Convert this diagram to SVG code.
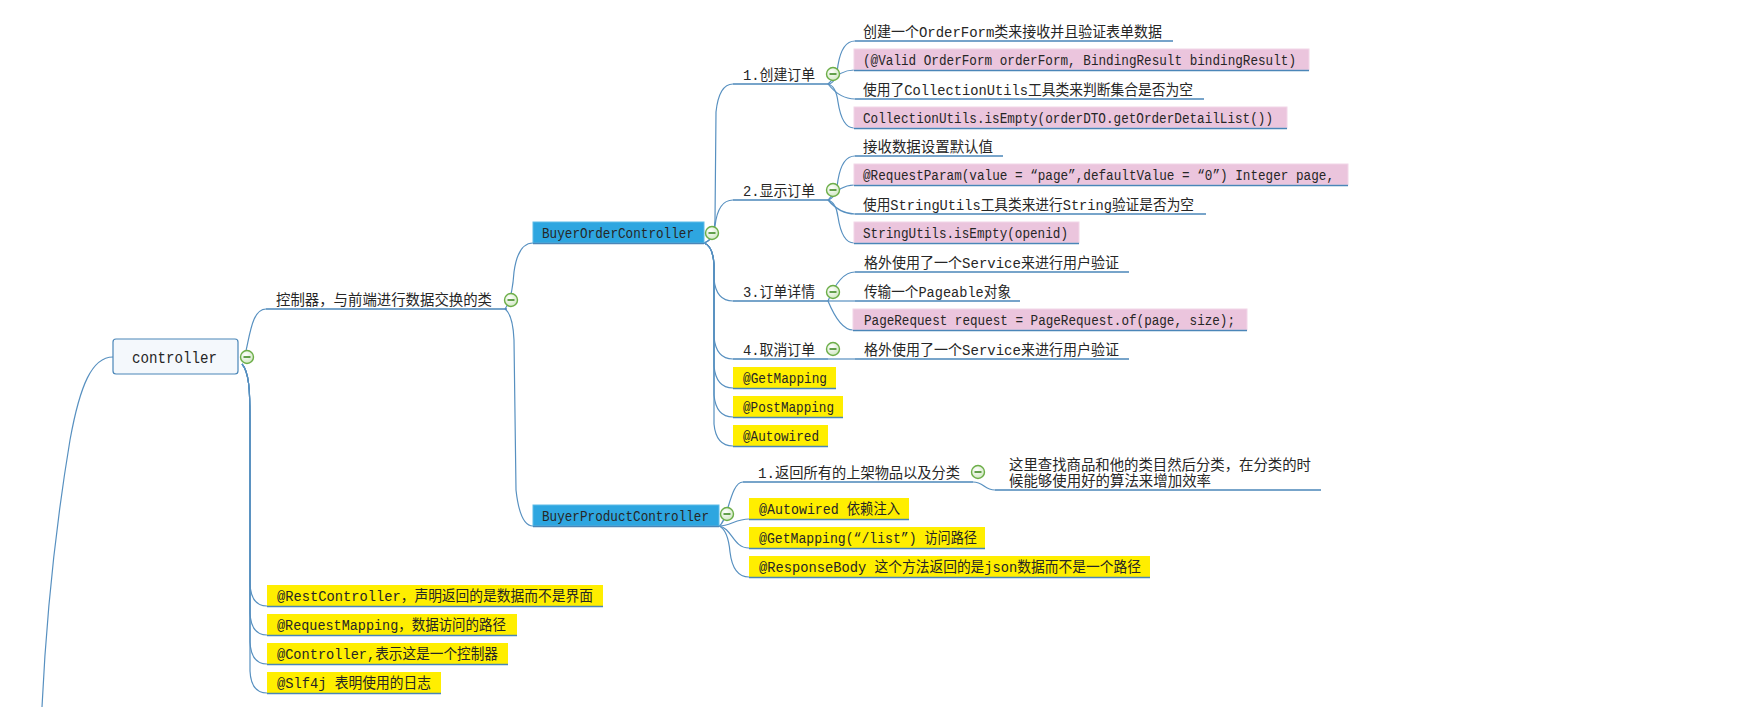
<svg xmlns="http://www.w3.org/2000/svg" xmlns:xlink="http://www.w3.org/1999/xlink" width="1755" height="707" viewBox="0 0 1755 707">
<style>
.t{font-family:"Liberation Mono","Noto Sans CJK SC",monospace;font-size:14.5px;fill:#262626}
.root{font-size:17px}
.ul{stroke:#4a86b8;stroke-width:1.3;fill:none}
.c{stroke:#5790c0;stroke-width:1.2;fill:none}
.pink{fill:#ebc5dd;stroke:#f2d6e8;stroke-width:1}
.yel{fill:#ffee00}
.blue{fill:#2ea6e0;stroke:#5cbbe8;stroke-width:1}
</style>
<defs>
<radialGradient id="cg" cx="0.4" cy="0.35" r="0.7">
<stop offset="0" stop-color="#ffffff"/>
<stop offset="1" stop-color="#cfe6c0"/>
</radialGradient>
<g id="col">
<circle cx="0" cy="0" r="6.5" fill="url(#cg)" stroke="#6cae48" stroke-width="1.4"/>
<line x1="-3.5" y1="0" x2="3.5" y2="0" stroke="#3f8a24" stroke-width="1.6"/>
</g>
</defs>
<rect width="1755" height="707" fill="#ffffff"/>

<g id="connectors">
<path class="c" d="M113,357 C92,357 80,385 70,440 C60,500 47,600 42,707"/>
<path class="c" d="M245,355 C250,335 252,309 266,309"/>
<path class="c" d="M242,364 C249,372 250,390 250,420 L250,584 Q251,606 267,606"/>
<path class="c" d="M242,364 C249,372 250,390 250,420 L250,613 Q251,635 267,635"/>
<path class="c" d="M242,364 C249,372 250,390 250,420 L250,642 Q251,664 267,664"/>
<path class="c" d="M242,364 C249,372 250,390 250,420 L250,671 Q251,693 267,693"/>
<path class="c" d="M505,309 Q512,300 514,272 Q518,243 533,243"/>
<path class="c" d="M505,309 Q513,315 514,340 L516,490 Q520,526 533,526"/>
<path class="c" d="M704,243 Q714,240 715,220 L716,112 Q719,84 733,84"/>
<path class="c" d="M704,243 Q714,240 715,226 Q718,200 733,200"/>
<path class="c" d="M704,243 Q713,246 714,265 L714,279 Q716,301 733,301"/>
<path class="c" d="M704,243 Q713,246 714,265 L714,337 Q716,359 733,359"/>
<path class="c" d="M704,243 Q713,246 714,265 L714,366 Q716,388 733,388"/>
<path class="c" d="M704,243 Q713,246 714,265 L714,395 Q716,417 733,417"/>
<path class="c" d="M704,243 Q713,246 714,265 L714,424 Q716,446 733,446"/>
<path class="c" d="M828,84 Q836,84 838,65 Q842,41 855,41"/>
<path class="c" d="M828,84 Q840,70 854,70"/>
<path class="c" d="M828,84 Q840,99 855,99"/>
<path class="c" d="M828,84 Q836,86 838,102 Q842,128 854,128"/>
<path class="c" d="M828,200 Q836,198 838,180 Q842,156 855,156"/>
<path class="c" d="M828,200 Q840,185 854,185"/>
<path class="c" d="M828,200 Q840,214 855,214"/>
<path class="c" d="M828,200 Q836,202 838,217 Q842,243 854,243"/>
<path class="c" d="M828,301 Q840,272 855,272"/>
<path class="c" d="M828,301 L855,301"/>
<path class="c" d="M828,301 Q840,330 853,330"/>
<path class="c" d="M828,359 L855,359"/>
<path class="c" d="M719,526 C728,522 730,482 743,482"/>
<path class="c" d="M719,526 C730,526 736,519 749,519"/>
<path class="c" d="M719,526 C732,528 733,548 749,548"/>
<path class="c" d="M719,526 Q728,530 730,552 Q733,577 749,577"/>
<path class="c" d="M973,482 C984,482 984,490 995,490"/>
</g>

<g id="n-controller">
<rect x="113" y="339" width="125" height="35" rx="3" fill="#f4f8fc" stroke="#4a86b8" stroke-width="1.2"/>
<text class="t root" x="132" y="363" textLength="85" lengthAdjust="spacingAndGlyphs">controller</text>
<use href="#col" x="247" y="357"/>
</g>

<g id="n-level1">
<text class="t" x="276" y="305" textLength="216" lengthAdjust="spacingAndGlyphs">控制器，与前端进行数据交换的类</text>
<line class="ul" x1="266" y1="309" x2="507" y2="309"/>
<use href="#col" x="511" y="300"/>
</g>

<g id="n-buyer-order">
<rect class="blue" x="533" y="222" width="171" height="21"/>
<line class="ul" x1="533" y1="243.5" x2="704" y2="243.5"/>
<text class="t" x="542" y="238" textLength="152" lengthAdjust="spacingAndGlyphs">BuyerOrderController</text>
<use href="#col" x="712" y="233"/>
</g>

<g id="n-create">
<text class="t" x="743" y="79.5" textLength="72" lengthAdjust="spacingAndGlyphs">1.创建订单</text>
<line class="ul" x1="733" y1="84" x2="828" y2="84"/>
<use href="#col" x="833" y="74"/>
</g>
<g id="n-create-1">
<text class="t" x="863" y="36.5" textLength="299" lengthAdjust="spacingAndGlyphs">创建一个OrderForm类来接收并且验证表单数据</text>
<line class="ul" x1="855" y1="41" x2="1173" y2="41"/>
</g>
<g id="n-create-2">
<rect class="pink" x="854" y="49" width="455" height="21"/>
<line class="ul" x1="854" y1="70.5" x2="1309" y2="70.5"/>
<text class="t" x="863" y="65" textLength="433" lengthAdjust="spacingAndGlyphs">(@Valid OrderForm orderForm, BindingResult bindingResult)</text>
</g>
<g id="n-create-3">
<text class="t" x="863" y="94.5" textLength="330" lengthAdjust="spacingAndGlyphs">使用了CollectionUtils工具类来判断集合是否为空</text>
<line class="ul" x1="855" y1="99" x2="1204" y2="99"/>
</g>
<g id="n-create-4">
<rect class="pink" x="854" y="107" width="433" height="21"/>
<line class="ul" x1="854" y1="128.5" x2="1287" y2="128.5"/>
<text class="t" x="863" y="123" textLength="410" lengthAdjust="spacingAndGlyphs">CollectionUtils.isEmpty(orderDTO.getOrderDetailList())</text>
</g>

<g id="n-show">
<text class="t" x="743" y="195.5" textLength="72" lengthAdjust="spacingAndGlyphs">2.显示订单</text>
<line class="ul" x1="733" y1="200" x2="828" y2="200"/>
<use href="#col" x="833" y="190"/>
</g>
<g id="n-show-1">
<text class="t" x="863" y="151.5" textLength="130" lengthAdjust="spacingAndGlyphs">接收数据设置默认值</text>
<line class="ul" x1="855" y1="156" x2="1003" y2="156"/>
</g>
<g id="n-show-2">
<rect class="pink" x="854" y="164" width="494" height="21"/>
<line class="ul" x1="854" y1="185.5" x2="1348" y2="185.5"/>
<text class="t" x="863" y="180" textLength="471" lengthAdjust="spacingAndGlyphs">@RequestParam(value = “page”,defaultValue = “0”) Integer page,</text>
</g>
<g id="n-show-3">
<text class="t" x="863" y="209.5" textLength="331" lengthAdjust="spacingAndGlyphs">使用StringUtils工具类来进行String验证是否为空</text>
<line class="ul" x1="855" y1="214" x2="1206" y2="214"/>
</g>
<g id="n-show-4">
<rect class="pink" x="854" y="222" width="225" height="21"/>
<line class="ul" x1="854" y1="243.5" x2="1079" y2="243.5"/>
<text class="t" x="863" y="238" textLength="205" lengthAdjust="spacingAndGlyphs">StringUtils.isEmpty(openid)</text>
</g>

<g id="n-detail">
<text class="t" x="743" y="296.5" textLength="72" lengthAdjust="spacingAndGlyphs">3.订单详情</text>
<line class="ul" x1="733" y1="301" x2="828" y2="301"/>
<use href="#col" x="833" y="292"/>
</g>
<g id="n-detail-1">
<text class="t" x="864" y="267.5" textLength="255" lengthAdjust="spacingAndGlyphs">格外使用了一个Service来进行用户验证</text>
<line class="ul" x1="855" y1="272" x2="1129" y2="272"/>
</g>
<g id="n-detail-2">
<text class="t" x="864" y="296.5" textLength="147" lengthAdjust="spacingAndGlyphs">传输一个Pageable对象</text>
<line class="ul" x1="855" y1="301" x2="1020" y2="301"/>
</g>
<g id="n-detail-3">
<rect class="pink" x="853" y="309" width="394" height="21"/>
<line class="ul" x1="853" y1="330.5" x2="1247" y2="330.5"/>
<text class="t" x="864" y="325" textLength="371" lengthAdjust="spacingAndGlyphs">PageRequest request = PageRequest.of(page, size);</text>
</g>

<g id="n-cancel">
<text class="t" x="743" y="354.5" textLength="72" lengthAdjust="spacingAndGlyphs">4.取消订单</text>
<line class="ul" x1="733" y1="359" x2="828" y2="359"/>
<use href="#col" x="833" y="349"/>
</g>
<g id="n-cancel-1">
<text class="t" x="864" y="354.5" textLength="255" lengthAdjust="spacingAndGlyphs">格外使用了一个Service来进行用户验证</text>
<line class="ul" x1="855" y1="359" x2="1129" y2="359"/>
</g>

<g id="n-getmapping">
<rect class="yel" x="733" y="367" width="103" height="21"/>
<line class="ul" x1="733" y1="388.5" x2="836" y2="388.5"/>
<text class="t" x="743" y="383" textLength="84" lengthAdjust="spacingAndGlyphs">@GetMapping</text>
</g>
<g id="n-postmapping">
<rect class="yel" x="733" y="396" width="110" height="21"/>
<line class="ul" x1="733" y1="417.5" x2="843" y2="417.5"/>
<text class="t" x="743" y="412" textLength="91" lengthAdjust="spacingAndGlyphs">@PostMapping</text>
</g>
<g id="n-autowired">
<rect class="yel" x="733" y="425" width="95" height="21"/>
<line class="ul" x1="733" y1="446.5" x2="828" y2="446.5"/>
<text class="t" x="743" y="441" textLength="76" lengthAdjust="spacingAndGlyphs">@Autowired</text>
</g>

<g id="n-buyer-product">
<rect class="blue" x="533" y="505" width="186" height="21"/>
<line class="ul" x1="533" y1="526.5" x2="719" y2="526.5"/>
<text class="t" x="542" y="521" textLength="167" lengthAdjust="spacingAndGlyphs">BuyerProductController</text>
<use href="#col" x="727" y="514"/>
</g>
<g id="n-list">
<text class="t" x="758" y="478" textLength="202" lengthAdjust="spacingAndGlyphs">1.返回所有的上架物品以及分类</text>
<line class="ul" x1="743" y1="482" x2="973" y2="482"/>
<use href="#col" x="978" y="472"/>
</g>
<g id="n-list-1">
<text class="t" x="1009" y="470" textLength="302" lengthAdjust="spacingAndGlyphs">这里查找商品和他的类目然后分类，在分类的时</text>
<text class="t" x="1009" y="486" textLength="202" lengthAdjust="spacingAndGlyphs">候能够使用好的算法来增加效率</text>
<line class="ul" x1="995" y1="490" x2="1321" y2="490"/>
</g>
<g id="n-autowired-di">
<rect class="yel" x="749" y="498" width="160" height="21"/>
<line class="ul" x1="749" y1="519.5" x2="909" y2="519.5"/>
<text class="t" x="759" y="514" textLength="141" lengthAdjust="spacingAndGlyphs">@Autowired 依赖注入</text>
</g>
<g id="n-getmapping-list">
<rect class="yel" x="749" y="527" width="236" height="21"/>
<line class="ul" x1="749" y1="548.5" x2="985" y2="548.5"/>
<text class="t" x="759" y="543" textLength="218" lengthAdjust="spacingAndGlyphs">@GetMapping(“/list”) 访问路径</text>
</g>
<g id="n-responsebody">
<rect class="yel" x="749" y="556" width="401" height="21"/>
<line class="ul" x1="749" y1="577.5" x2="1150" y2="577.5"/>
<text class="t" x="759" y="572" textLength="382" lengthAdjust="spacingAndGlyphs">@ResponseBody 这个方法返回的是json数据而不是一个路径</text>
</g>

<g id="n-restcontroller">
<rect class="yel" x="267" y="585" width="336" height="21"/>
<line class="ul" x1="267" y1="606.5" x2="603" y2="606.5"/>
<text class="t" x="277" y="601" textLength="316" lengthAdjust="spacingAndGlyphs">@RestController，声明返回的是数据而不是界面</text>
</g>
<g id="n-requestmapping">
<rect class="yel" x="267" y="614" width="250" height="21"/>
<line class="ul" x1="267" y1="635.5" x2="517" y2="635.5"/>
<text class="t" x="277" y="630" textLength="229" lengthAdjust="spacingAndGlyphs">@RequestMapping，数据访问的路径</text>
</g>
<g id="n-controller-ann">
<rect class="yel" x="267" y="643" width="241" height="21"/>
<line class="ul" x1="267" y1="664.5" x2="508" y2="664.5"/>
<text class="t" x="277" y="659" textLength="221" lengthAdjust="spacingAndGlyphs">@Controller,表示这是一个控制器</text>
</g>
<g id="n-slf4j">
<rect class="yel" x="267" y="672" width="174" height="21"/>
<line class="ul" x1="267" y1="693.5" x2="441" y2="693.5"/>
<text class="t" x="277" y="688" textLength="154" lengthAdjust="spacingAndGlyphs">@Slf4j 表明使用的日志</text>
</g>
</svg>
